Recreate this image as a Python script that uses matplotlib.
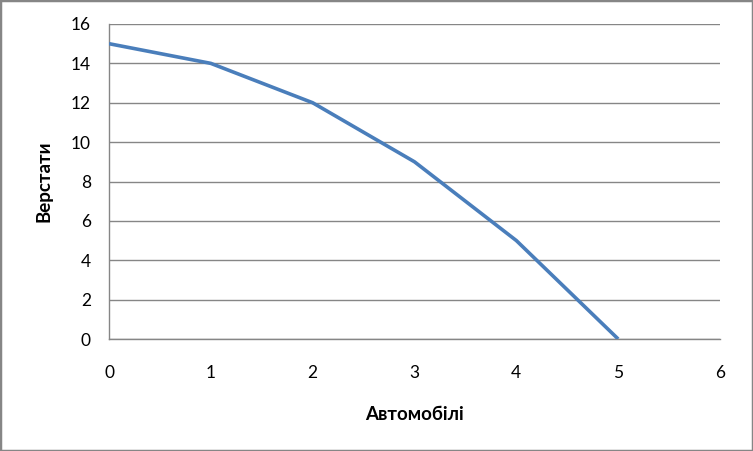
import matplotlib.pyplot as plt
from matplotlib.patches import Rectangle

# values
avtomobili = [0, 1, 2, 3, 4, 5]
verstaty = [15, 14, 12, 9, 5, 0]
x_ticks = [0, 1, 2, 3, 4, 5, 6]
y_ticks = [0, 2, 4, 6, 8, 10, 12, 14, 16]

plt.rcParams['font.family'] = ['Lato', 'DejaVu Sans']

fig = plt.figure(figsize=(7.53, 4.51), dpi=100)
ax = fig.add_axes([109 / 753, 1 - 339 / 451, 611 / 753, 315 / 451])

grey = '#868686'
ax.plot(avtomobili, verstaty, color='#4A7EBB', linewidth=2.6, solid_capstyle='butt', zorder=3)

ax.set_xlim(0, 6)
ax.set_ylim(0, 16)
ax.set_xticks(x_ticks)
ax.set_yticks(y_ticks)
ax.yaxis.grid(True, color=grey, linewidth=1)
ax.set_axisbelow(True)
ax.tick_params(length=0, labelsize=12.5, colors='black', pad=13)
ax.tick_params(axis='x', pad=19)

for side in ['top', 'right']:
    ax.spines[side].set_visible(False)
for side in ['left', 'bottom']:
    ax.spines[side].set_color(grey)
    ax.spines[side].set_linewidth(1)

ax.set_xlabel('Автомобілі', fontsize=13.5, fontweight='bold', labelpad=18)
ax.set_ylabel('Верстати', fontsize=13.5, fontweight='bold', labelpad=13)

fig.patches.append(Rectangle((0, 0), 1, 1, transform=fig.transFigure, fill=False,
                             edgecolor=grey, linewidth=2.5))

fig.savefig('out.png', dpi=100)
